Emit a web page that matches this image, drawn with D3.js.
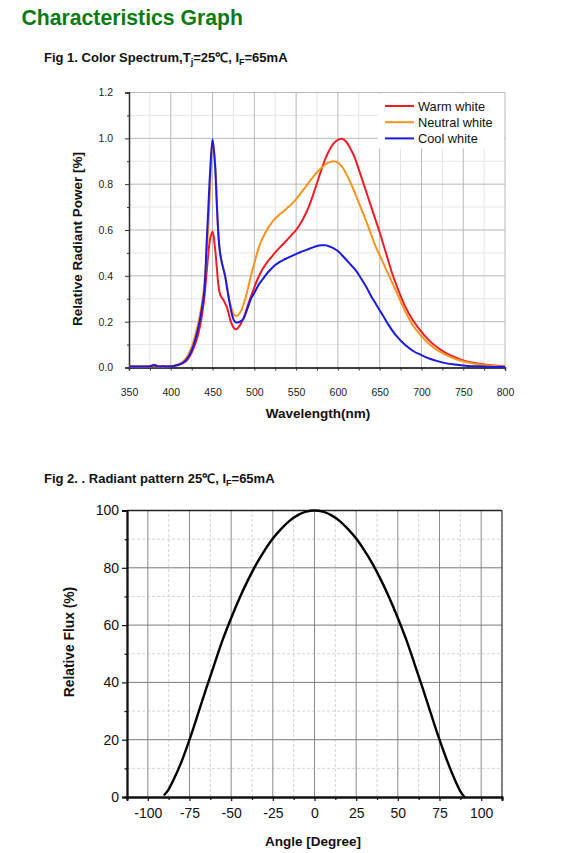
<!DOCTYPE html>
<html><head><meta charset="utf-8">
<script src="https://cdn.jsdelivr.net/npm/d3@7"></script>
<style>
html,body{margin:0;padding:0;background:#fff;}
svg{display:block;}
text{font-family:Arial,"Liberation Sans",sans-serif;}
</style></head>
<body>
<svg id="c" width="577" height="853"></svg>
<script>
// ---------- Fig 1 data ----------
const wavelengths = [350,360,370,375,380,385,390,400,405,410,415,420,425,430,435,440,443,445,447,450,453,455,457,459,461,463,465,467,469,471,473,475,477,479,481,483,485,487,490,493,496,500,505,510,515,520,525,530,535,540,545,550,555,560,565,570,575,580,585,590,595,600,605,610,615,620,625,630,635,640,645,650,655,660,665,670,680,690,700,710,720,730,740,750,760,770,780,790,800];
const warmWhite = [0.004,0.004,0.004,0.005,0.012,0.005,0.005,0.006,0.008,0.012,0.02,0.035,0.065,0.11,0.18,0.3,0.42,0.5,0.56,0.594,0.52,0.44,0.36,0.32,0.305,0.295,0.28,0.265,0.24,0.21,0.19,0.175,0.167,0.168,0.175,0.185,0.2,0.215,0.245,0.28,0.31,0.35,0.395,0.43,0.458,0.48,0.502,0.522,0.54,0.56,0.58,0.6,0.627,0.66,0.7,0.75,0.805,0.86,0.91,0.95,0.978,0.993,0.998,0.985,0.955,0.918,0.865,0.81,0.755,0.7,0.645,0.59,0.53,0.47,0.41,0.36,0.27,0.205,0.155,0.115,0.085,0.062,0.045,0.031,0.022,0.016,0.011,0.008,0.005];
const neutralWhite = [0.004,0.004,0.004,0.004,0.006,0.004,0.004,0.005,0.009,0.015,0.027,0.05,0.09,0.15,0.23,0.36,0.5,0.62,0.78,0.99,0.9,0.74,0.58,0.5,0.46,0.43,0.4,0.36,0.32,0.28,0.255,0.235,0.226,0.225,0.23,0.24,0.255,0.275,0.31,0.355,0.4,0.455,0.52,0.565,0.6,0.628,0.65,0.667,0.682,0.698,0.715,0.735,0.758,0.782,0.806,0.83,0.852,0.87,0.886,0.896,0.9,0.894,0.876,0.845,0.808,0.765,0.72,0.675,0.628,0.578,0.53,0.49,0.45,0.41,0.37,0.33,0.25,0.182,0.137,0.1,0.073,0.054,0.038,0.027,0.019,0.013,0.009,0.006,0.004];
const coolWhite = [0.004,0.004,0.004,0.005,0.01,0.005,0.005,0.005,0.008,0.013,0.022,0.04,0.075,0.13,0.21,0.33,0.55,0.7,0.85,0.996,0.88,0.72,0.58,0.5,0.46,0.43,0.4,0.355,0.31,0.27,0.235,0.21,0.2,0.196,0.197,0.2,0.205,0.212,0.24,0.27,0.3,0.326,0.36,0.385,0.41,0.43,0.447,0.46,0.47,0.478,0.487,0.495,0.503,0.51,0.517,0.524,0.53,0.533,0.533,0.528,0.52,0.508,0.49,0.47,0.45,0.43,0.405,0.375,0.345,0.31,0.28,0.25,0.22,0.19,0.162,0.138,0.1,0.072,0.054,0.038,0.027,0.018,0.013,0.009,0.006,0.005,0.003,0.002,0.002];
const seriesNames = ["Warm white","Neutral white","Cool white"];
const seriesColors = ["#ee1c24","#f7941d","#1a1ae0"];
const specXTicks = [350,400,450,500,550,600,650,700,750,800];
const specYTicks = [0,0.2,0.4,0.6,0.8,1.0,1.2];

// ---------- Fig 2 data ----------
const angles = [-90,-88,-85,-80,-75,-70,-65,-60,-55,-50,-45,-40,-35,-30,-25,-20,-15,-10,-5,0,5,10,15,20,25,30,35,40,45,50,55,60,65,70,75,80,85,88,90];
const relFlux = [0.8,2.2,5.5,12,20,28.8,37.8,46.5,55,62.5,69.4,75.6,81.2,86,90.2,93.6,96.4,98.4,99.6,100,99.6,98.4,96.4,93.6,90.2,86,81.2,75.6,69.4,62.5,55,46.5,37.8,28.8,20,12,5,1.5,0];
const angXTicks = [-100,-75,-50,-25,0,25,50,75,100];
const fluxYTicks = [0,20,40,60,80,100];

const svg = d3.select("#c");

svg.append("text").attr("x",21.5).attr("y",24.5).attr("fill","#0b7a12")
  .attr("font-size","21.2px").attr("font-weight","bold").text("Characteristics Graph");

function figTitle(y, parts){
  const t = svg.append("text").attr("x",44).attr("y",y).attr("font-size","13px").attr("font-weight","bold").attr("fill","#111");
  parts.forEach(p=>{
    const s = t.append("tspan").text(p.t);
    if(p.sub) s.attr("font-size","9px");
    if(p.dy) s.attr("dy",p.dy);
  });
}
figTitle(62,[{t:"Fig 1. Color Spectrum,T"},{t:"j",sub:1,dy:3},{t:"=25℃, I",dy:-3},{t:"F",sub:1,dy:3},{t:"=65mA",dy:-3}]);
figTitle(483,[{t:"Fig 2. . Radiant pattern 25℃, I"},{t:"F",sub:1,dy:3},{t:"=65mA",dy:-3}]);

// ---------- Fig 1 ----------
const x1 = d3.scaleLinear().domain([350,800]).range([129,505]);
const y1 = d3.scaleLinear().domain([0,1.2]).range([367.5,92.5]);
const g1 = svg.append("g");

d3.range(375,800,50).forEach(v=>g1.append("line").attr("x1",x1(v)).attr("x2",x1(v)).attr("y1",y1(0)).attr("y2",y1(1.2)).attr("stroke","#e4e4e4").attr("stroke-width",1));
d3.range(1,12,2).map(v=>v/10).forEach(v=>g1.append("line").attr("x1",x1(350)).attr("x2",x1(800)).attr("y1",y1(v)).attr("y2",y1(v)).attr("stroke","#e8e8e8").attr("stroke-width",1));
specXTicks.slice(1).forEach(v=>g1.append("line").attr("x1",x1(v)).attr("x2",x1(v)).attr("y1",y1(0)).attr("y2",y1(1.2)).attr("stroke","#b8b8b8").attr("stroke-width",1));
specYTicks.slice(1).forEach(v=>g1.append("line").attr("x1",x1(350)).attr("x2",x1(800)).attr("y1",y1(v)).attr("y2",y1(v)).attr("stroke","#b8b8b8").attr("stroke-width",1));

g1.append("g").attr("transform",`translate(${x1(350)},0)`)
  .call(d3.axisLeft(y1).tickValues(specYTicks).tickFormat(d3.format(".1f")).tickSize(4).tickPadding(12));
g1.append("g").attr("transform",`translate(${x1(350)},0)`)
  .call(d3.axisLeft(y1).tickValues(d3.range(1,12,2).map(v=>v/10)).tickFormat("").tickSize(2));
g1.append("g").attr("transform",`translate(0,${y1(0)})`)
  .call(d3.axisBottom(x1).tickValues(specXTicks).tickSize(3).tickPadding(18));
g1.append("g").attr("transform",`translate(0,${y1(0)})`)
  .call(d3.axisBottom(x1).tickValues(d3.range(375,800,50)).tickFormat("").tickSize(3));
g1.selectAll(".domain").attr("stroke","#333").attr("stroke-width",1.3);
g1.selectAll(".tick line").attr("stroke","#333");
g1.selectAll(".tick text").attr("font-size","10.5px").attr("fill","#222").attr("font-family","Arial, 'Liberation Sans', sans-serif");

const line1 = d3.line().x((d,i)=>x1(wavelengths[i])).y(d=>y1(d)).curve(d3.curveCatmullRom.alpha(0.5));
[warmWhite,neutralWhite,coolWhite].forEach((s,i)=>{
  g1.append("path").datum(s).attr("d",line1).attr("fill","none").attr("stroke",seriesColors[i]).attr("stroke-width",2).attr("stroke-linejoin","round");
});

g1.append("rect").attr("x",378).attr("y",93.5).attr("width",126).attr("height",55).attr("fill","#fff");
seriesNames.forEach((n,i)=>{
  const yy = 106 + i*16.2;
  g1.append("line").attr("x1",385).attr("x2",414).attr("y1",yy).attr("y2",yy).attr("stroke",seriesColors[i]).attr("stroke-width",2);
  g1.append("text").attr("x",418).attr("y",yy+4.5).attr("font-size","12.8px").attr("fill","#111").text(n);
});

g1.append("text").attr("transform","translate(82,239) rotate(-90)").attr("text-anchor","middle")
  .attr("font-size","13.5px").attr("font-weight","bold").attr("fill","#111").text("Relative Radiant Power [%]");
g1.append("text").attr("x",318).attr("y",418).attr("text-anchor","middle")
  .attr("font-size","13.5px").attr("font-weight","bold").attr("fill","#111").text("Wavelength(nm)");

// ---------- Fig 2 ----------
const x2 = d3.scaleLinear().domain([-112.5,112.5]).range([127,502]);
const y2 = d3.scaleLinear().domain([0,100]).range([797,510.5]);
const g2 = svg.append("g");

d3.range(-112.5,113,25).forEach(v=>g2.append("line").attr("x1",x2(v)).attr("x2",x2(v)).attr("y1",y2(0)).attr("y2",y2(100)).attr("stroke","#cfcfcf").attr("stroke-dasharray","3,2").attr("stroke-width",0.9));
d3.range(10,100,20).forEach(v=>g2.append("line").attr("x1",x2(-112.5)).attr("x2",x2(112.5)).attr("y1",y2(v)).attr("y2",y2(v)).attr("stroke","#cfcfcf").attr("stroke-dasharray","3,2").attr("stroke-width",0.9));
angXTicks.forEach(v=>g2.append("line").attr("x1",x2(v)).attr("x2",x2(v)).attr("y1",y2(0)).attr("y2",y2(100)).attr("stroke","#8a8a8a").attr("stroke-width",1));
fluxYTicks.slice(1,-1).forEach(v=>g2.append("line").attr("x1",x2(-112.5)).attr("x2",x2(112.5)).attr("y1",y2(v)).attr("y2",y2(v)).attr("stroke","#7a7a7a").attr("stroke-width",1));

g2.append("line").attr("x1",x2(-112.5)).attr("x2",x2(112.5)).attr("y1",y2(100)).attr("y2",y2(100)).attr("stroke","#222").attr("stroke-width",1.5);
g2.append("line").attr("x1",x2(112.5)).attr("x2",x2(112.5)).attr("y1",y2(0)).attr("y2",y2(100)).attr("stroke","#444").attr("stroke-width",1.3);

g2.append("g").attr("transform",`translate(${x2(-112.5)},0)`)
  .call(d3.axisLeft(y2).tickValues(fluxYTicks).tickSize(5).tickPadding(3));
g2.append("g").attr("transform",`translate(${x2(-112.5)},0)`)
  .call(d3.axisLeft(y2).tickValues(d3.range(10,100,20)).tickFormat("").tickSize(2.5));
g2.append("g").attr("transform",`translate(0,${y2(0)})`)
  .call(d3.axisBottom(x2).tickValues(angXTicks).tickFormat(d=>String(d)).tickSize(4).tickPadding(7));
g2.append("g").attr("transform",`translate(0,${y2(0)})`)
  .call(d3.axisBottom(x2).tickValues(d3.range(-112.5,113,25)).tickFormat("").tickSize(3));
g2.selectAll(".domain").attr("stroke","#111").attr("stroke-width",1.8);
g2.selectAll(".tick line").attr("stroke","#111").attr("stroke-width",1.2);
g2.selectAll(".tick text").attr("font-size","14px").attr("fill","#111").attr("font-family","Roboto, Arial, sans-serif");

const line2 = d3.line().x((d,i)=>x2(angles[i])).y(d=>y2(d)).curve(d3.curveCatmullRom.alpha(0.5));
g2.append("path").datum(relFlux).attr("d",line2).attr("fill","none").attr("stroke","#000").attr("stroke-width",2.4).attr("stroke-linecap","round");

g2.append("text").attr("transform","translate(74,642) rotate(-90)").attr("text-anchor","middle")
  .attr("font-size","13.8px").attr("font-weight","bold").attr("fill","#111").text("Relative Flux (%)");
g2.append("text").attr("x",313).attr("y",846).attr("text-anchor","middle")
  .attr("font-size","13.5px").attr("font-weight","bold").attr("fill","#111").text("Angle [Degree]");
</script>
</body></html>
